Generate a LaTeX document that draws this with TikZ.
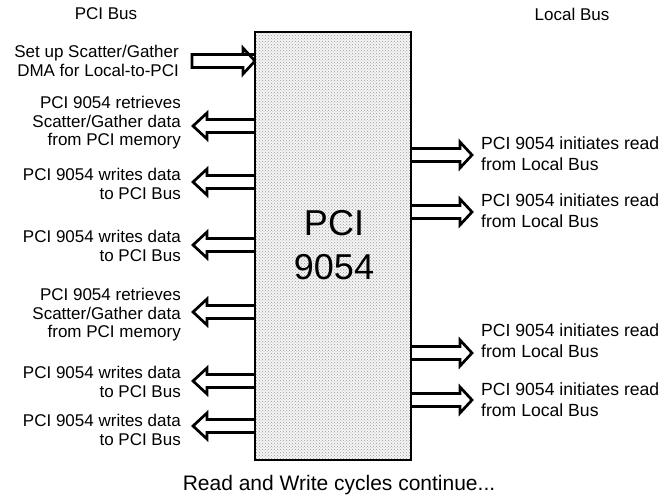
\documentclass[tikz,border=0pt]{standalone}
\usepackage{fontspec}
\setmainfont{Liberation Sans}
\usetikzlibrary{patterns}
\begin{document}
\begin{tikzpicture}[x=1pt,y=-1pt,
  arw/.style={draw=black,line width=2.7pt,fill=white,miter limit=10},
  lbl/.style={font=\fontsize{17}{18.5}\selectfont,align=right,inner sep=0pt,anchor=east},
  rlbl/.style={font=\fontsize{17.6}{21}\selectfont,align=left,inner sep=0pt,anchor=west},
  head/.style={font=\fontsize{17}{20}\selectfont,inner sep=0pt},
  larw/.pic={\draw[arw] (62,-6.5) -- (14,-6.5) -- (14,-13) -- (0,0) -- (14,13) -- (14,6.5) -- (62,6.5);},
  rarw/.pic={\draw[arw] (0,-6.5) -- (49,-6.5) -- (49,-13) -- (61,0) -- (49,13) -- (49,6.5) -- (0,6.5);},
  inarw/.pic={\draw[arw] (63,-6.5) -- (0,-6.5) -- (0,6.5) -- (51,6.5) -- (51,13) -- (63,0) -- (51,-13) -- (51,-6.5) -- cycle;}
]
\useasboundingbox (0,0) rectangle (665,502);
\fill[white] (0,0) rectangle (665,502);

% headers
\node[head] (hpci) at (106,14) {PCI Bus};
\node[head] (hloc) at (572,14) {Local Bus};

% arrow anchors
\coordinate (a1) at (192,61);
\coordinate (a2) at (193,126);
\coordinate (a3) at (193,182);
\coordinate (a4) at (193,245);
\coordinate (a5) at (193,312);
\coordinate (a6) at (193,381);
\coordinate (a7) at (193,426);
\coordinate (b1) at (411,155);
\coordinate (b2) at (411,212);
\coordinate (b3) at (411,353);
\coordinate (b4) at (411,400);

\pic at (a1) {inarw};
\pic at (a2) {larw};
\pic at (a3) {larw};
\pic at (a4) {larw};
\pic at (a5) {larw};
\pic at (a6) {larw};
\pic at (a7) {larw};
\pic at (b1) {rarw};
\pic at (b2) {rarw};
\pic at (b3) {rarw};
\pic at (b4) {rarw};

% main box
\fill[gray!8] (255,32) rectangle (411,460);
\fill[pattern=crosshatch dots,pattern color=gray!80] (255,32) rectangle (411,460);
\draw[line width=2.7pt] (255,32) rectangle (411,460);
\node[font=\fontsize{36}{44}\selectfont,align=center,inner sep=0pt] (chip) at (334,245) {PCI\\9054};

% left labels
\node[lbl] (t1) at (179,61) {Set up Scatter/Gather\\DMA for Local-to-PCI};
\node[lbl] (t2) at (181,123) {PCI 9054 retrieves\\Scatter/Gather data\\from PCI memory};
\node[lbl] (t3) at (181,184) {PCI 9054 writes data\\to PCI Bus};
\node[lbl] (t4) at (181,246) {PCI 9054 writes data\\to PCI Bus};
\node[lbl] (t5) at (181,315) {PCI 9054 retrieves\\Scatter/Gather data\\from PCI memory};
\node[lbl] (t6) at (181,382) {PCI 9054 writes data\\to PCI Bus};
\node[lbl] (t7) at (181,430) {PCI 9054 writes data\\to PCI Bus};

% right labels
\node[rlbl] (r1) at (481,154) {PCI 9054 initiates read\\from Local Bus};
\node[rlbl] (r2) at (481,211) {PCI 9054 initiates read\\from Local Bus};
\node[rlbl] (r3) at (481,341) {PCI 9054 initiates read\\from Local Bus};
\node[rlbl] (r4) at (481,400) {PCI 9054 initiates read\\from Local Bus};

% footer
\node[font=\fontsize{21}{24}\selectfont,inner sep=0pt] (foot) at (339,485) {Read and Write cycles continue...};
\end{tikzpicture}
\end{document}
